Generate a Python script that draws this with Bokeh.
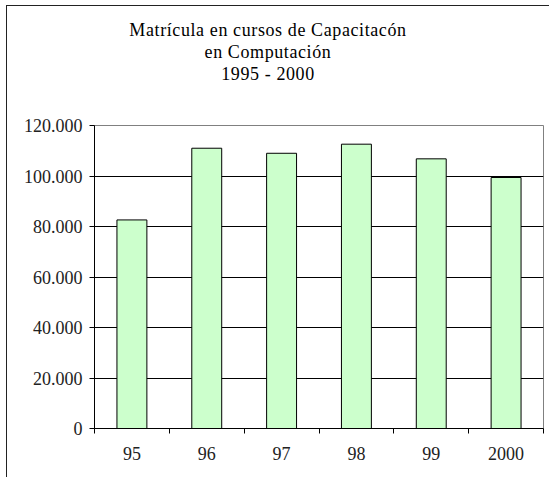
from bokeh.plotting import figure
from bokeh.models import FixedTicker, Div
from bokeh.layouts import column
from bokeh.embed import file_html
from bokeh.resources import INLINE

# ---- data ----
years = ["95", "96", "97", "98", "99", "2000"]
enrolment = [82600, 111000, 109000, 112600, 106800, 99400]
y_ticks = [0, 20000, 40000, 60000, 80000, 100000, 120000]
y_tick_labels = ["0", "20.000", "40.000", "60.000", "80.000", "100.000", "120.000"]
title_lines = ["Matrícula en cursos de Capacitacón", "en Computación", "1995 - 2000"]

FONT = "Liberation Serif"
xpos = [i + 0.5 for i in range(len(years))]

title_div = Div(
    text="<br>".join(title_lines),
    width=522, height=80, margin=0,
    styles={"text-align": "center", "font-family": "'Liberation Serif', serif",
            "font-size": "18px", "line-height": "22px", "color": "black",
            "letter-spacing": "0.6px",
            "padding-top": "13px", "box-sizing": "border-box"},
)

p = figure(
    output_backend="svg", toolbar_location=None,
    width=542, height=391,
    frame_width=449, frame_height=303,
    min_border_left=87, min_border_right=6, min_border_top=39, min_border_bottom=49,
    x_range=(0, len(years)), y_range=(0, 120000),
    tools="",
)
p.margin = 0
p.background_fill_color = "white"
p.border_fill_color = "white"
p.outline_line_color = "#808080"
p.outline_line_width = 1

p.vbar(x=xpos, top=enrolment, width=0.4, bottom=0,
       fill_color="#CCFFCC", line_color="black", line_width=1)

# y axis
yax = p.yaxis[0]
yax.ticker = FixedTicker(ticks=y_ticks)
yax.major_label_overrides = {t: l for t, l in zip(y_ticks, y_tick_labels)}
yax.major_tick_in = 0
yax.major_tick_out = 5
yax.minor_tick_line_color = None
yax.axis_line_color = "black"
yax.major_tick_line_color = "black"
yax.major_label_text_font = FONT
yax.major_label_text_font_size = "18px"
yax.major_label_text_color = "#222222"
yax.major_label_standoff = 7

# x axis: labels at centers, ticks at boundaries
xax = p.xaxis[0]
xax.ticker = FixedTicker(ticks=xpos, minor_ticks=list(range(len(years) + 1)))
xax.major_label_overrides = {x: y for x, y in zip(xpos, years)}
xax.major_tick_line_color = None
xax.minor_tick_line_color = "black"
xax.minor_tick_in = 0
xax.minor_tick_out = 5
xax.axis_line_color = "black"
xax.major_label_text_font = FONT
xax.major_label_text_font_size = "18px"
xax.major_label_text_color = "#222222"
xax.major_label_standoff = 12

p.xgrid.grid_line_color = None
p.ygrid.ticker = FixedTicker(ticks=y_ticks[1:-1])
p.ygrid.grid_line_color = "black"
p.ygrid.grid_line_width = 1

layout = column(title_div, p, spacing=0)
layout.margin = (5, 0, 0, 6)
layout.styles = {"border-left": "1px solid #222", "border-top": "1px solid #222"}

open("out.html", "w").write(file_html(layout, INLINE))
